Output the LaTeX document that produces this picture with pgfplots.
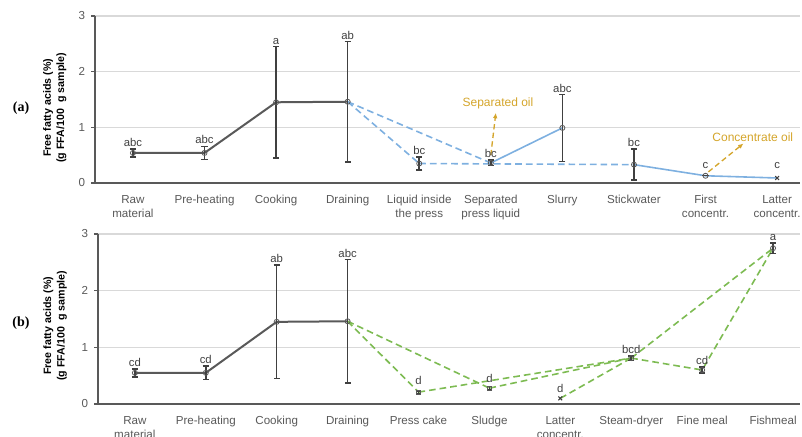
\documentclass[border=0pt]{standalone}
\usepackage{pgfplots}
\pgfplotsset{compat=1.18}
\usepackage{fontspec}
\setmainfont{Liberation Sans}
\newfontfamily\serifb{Liberation Serif}
\usetikzlibrary{arrows.meta}
\definecolor{darkline}{HTML}{595959}
\definecolor{errcol}{HTML}{404040}
\definecolor{blueline}{HTML}{7EB0E0}
\definecolor{greenline}{HTML}{7DBB52}
\definecolor{oilcol}{HTML}{D4A52B}
\definecolor{textgray}{HTML}{595959}
\definecolor{gridgray}{HTML}{D9D9D9}
\tikzset{
  lbl/.style={font=\fontsize{8.5}{9}\selectfont, text=errcol, anchor=south, inner sep=1.5pt},
  oil/.style={oilcol, line width=1pt, dash pattern=on 4pt off 2.5pt, -{Latex[length=4pt,width=3.5pt]}},
}
\begin{document}
\begin{tikzpicture}
\path[use as bounding box] (0,0) rectangle (601.5pt,327pt);
\pgfplotsset{
  myaxis/.style={
    scale only axis, anchor=south west,
    ymin=0, ymax=3, ytick={0,1,2,3},
    axis x line=bottom, axis y line=left,
    axis line style={-, draw=darkline, line width=1.2pt},
    ymajorgrids, grid style={gridgray, line width=0.8pt},
    xtick={0,...,9}, xtick style={draw=none},
    ytick style={draw=darkline, line width=0.8pt},
    tick align=outside, major tick length=3pt,
    tick label style={font=\fontsize{8.7}{10.8}\selectfont, text=textgray},
    xticklabel style={align=center, yshift=-2.5pt},
    yticklabel style={xshift=-1pt},
    /pgf/number format/assume math mode=true,
    ylabel style={align=center, font=\bfseries\fontsize{8}{10}\selectfont, text=black, anchor=center},
    ylabel={Free fatty acids (\%)\\(g FFA/100\ \ g sample)},
    clip=false,
  },
  errs/.style={only marks, mark=o, mark size=1.9pt,
    mark options={draw=darkline, fill=white, line width=0.6pt},
    error bars/.cd, y dir=both, y explicit,
    error bar style={errcol, line width=1.2pt},
    error mark options={rotate=90, errcol, mark size=2.3pt, line width=1.1pt}},
}
% ---------------- panel (a)
\begin{axis}[myaxis, at={(71.25pt,189.75pt)}, width=528.75pt, height=125.25pt,
  xmin=-0.53, xmax=9.32,
  xticklabels={Raw\\material, Pre-heating, Cooking, Draining, Liquid inside\\the press, Separated\\press liquid, Slurry, Stickwater, First\\concentr., Latter\\concentr.},
  ylabel style={at={(rel axis cs:-0.057,0.45)}}]
\addplot[darkline, line width=1.5pt] coordinates {(0,0.54) (1,0.54) (2,1.45) (3,1.46)};
\addplot[blueline, line width=1.2pt, dash pattern=on 5pt off 3pt] coordinates {(3,1.46) (4,0.35)};
\addplot[blueline, line width=1.2pt, dash pattern=on 5pt off 3pt] coordinates {(3,1.46) (5,0.36)};
\addplot[blueline, line width=1.2pt, dash pattern=on 5pt off 3pt] coordinates {(4,0.35) (7,0.33)};
\addplot[blueline, line width=1.2pt] coordinates {(5,0.36) (6,0.99)};
\addplot[blueline, line width=1.2pt] coordinates {(7,0.33) (8,0.13) (9,0.09)};
\addplot[oil] coordinates {(5.0,0.5) (5.07,1.26)};
\addplot[oil] coordinates {(8.04,0.2) (8.53,0.71)};
\addplot[errs] coordinates {(0,0.54) +- (0,0.07) (1,0.54) +- (0,0.12) (2,1.45) +- (0,1.0) (3,1.46) +- (0,1.08) (4,0.35) +- (0,0.12) (5,0.36) +- (0,0.05) (6,0.99) +- (0,0.6) (7,0.33) +- (0,0.28) (8,0.13) +- (0,0)};
\addplot[only marks, mark=x, mark size=2pt, errcol, line width=0.8pt] coordinates {(9,0.09)};
\node[lbl] at (axis cs:0,0.61) {abc};
\node[lbl] at (axis cs:1,0.66) {abc};
\node[lbl] at (axis cs:2,2.45) {a};
\node[lbl] at (axis cs:3,2.54) {ab};
\node[lbl] at (axis cs:4,0.47) {bc};
\node[lbl] at (axis cs:5,0.41) {bc};
\node[lbl] at (axis cs:6,1.59) {abc};
\node[lbl] at (axis cs:7,0.61) {bc};
\node[lbl] at (axis cs:8,0.22) {c};
\node[lbl] at (axis cs:9,0.22) {c};
\node[font=\fontsize{9}{10}\selectfont, text=oilcol] at (axis cs:5.1,1.43) {Separated oil};
\node[font=\fontsize{9}{10}\selectfont, text=oilcol] at (axis cs:8.66,0.83) {Concentrate oil};
\end{axis}
% ---------------- panel (b)
\begin{axis}[myaxis, at={(73.5pt,24pt)}, width=526.5pt, height=127.5pt,
  xmin=-0.52, xmax=9.38,
  xticklabels={Raw\\material, Pre-heating, Cooking, Draining, Press cake, Sludge, Latter\\concentr., Steam-dryer, Fine meal, Fishmeal},
  ylabel style={at={(rel axis cs:-0.061,0.46)}}]
\addplot[darkline, line width=1.5pt] coordinates {(0,0.55) (1,0.55) (2,1.45) (3,1.46)};
\addplot[greenline, line width=1.2pt, dash pattern=on 5pt off 3pt] coordinates {(3,1.46) (4,0.21)};
\addplot[greenline, line width=1.2pt, dash pattern=on 5pt off 3pt] coordinates {(3,1.46) (5,0.28)};
\addplot[greenline, line width=1.2pt, dash pattern=on 5pt off 3pt] coordinates {(4,0.21) (7,0.81)};
\addplot[greenline, line width=1.2pt, dash pattern=on 5pt off 3pt] coordinates {(5,0.28) (7,0.81)};
\addplot[greenline, line width=1.2pt, dash pattern=on 5pt off 3pt] coordinates {(6,0.10) (7,0.81)};
\addplot[greenline, line width=1.2pt, dash pattern=on 5pt off 3pt] coordinates {(7,0.81) (8,0.60) (9,2.75)};
\addplot[greenline, line width=1.2pt, dash pattern=on 5pt off 3pt] coordinates {(7,0.81) (9,2.75)};
\addplot[errs] coordinates {(0,0.55) +- (0,0.07) (1,0.55) +- (0,0.12) (2,1.45) +- (0,1.0) (3,1.46) +- (0,1.09) (7,0.81) +- (0,0.04) (8,0.60) +- (0,0.05) (9,2.75) +- (0,0.09)};
\addplot[only marks, mark=square, mark size=1.6pt, mark options={draw=darkline, fill=white, line width=0.6pt}, error bars/.cd, y dir=both, y explicit, error bar style={errcol, line width=1pt}, error mark options={rotate=90, errcol, mark size=2pt, line width=1pt}] coordinates {(4,0.21) +- (0,0.02) (5,0.28) +- (0,0.03)};
\addplot[only marks, mark=x, mark size=2pt, errcol, line width=0.8pt] coordinates {(6,0.10)};
\node[lbl] at (axis cs:0,0.62) {cd};
\node[lbl] at (axis cs:1,0.67) {cd};
\node[lbl] at (axis cs:2,2.45) {ab};
\node[lbl] at (axis cs:3,2.55) {abc};
\node[lbl] at (axis cs:4,0.30) {d};
\node[lbl] at (axis cs:5,0.34) {d};
\node[lbl] at (axis cs:6,0.16) {d};
\node[lbl] at (axis cs:7,0.85) {bcd};
\node[lbl] at (axis cs:8,0.65) {cd};
\node[lbl] at (axis cs:9,2.84) {a};
\end{axis}
\node[font=\serifb\bfseries\fontsize{10.5}{12}\selectfont] at (15.75pt,246pt) {(a)};
\node[font=\serifb\bfseries\fontsize{10.5}{12}\selectfont] at (15.75pt,84.75pt) {(b)};
\end{tikzpicture}
\end{document}
